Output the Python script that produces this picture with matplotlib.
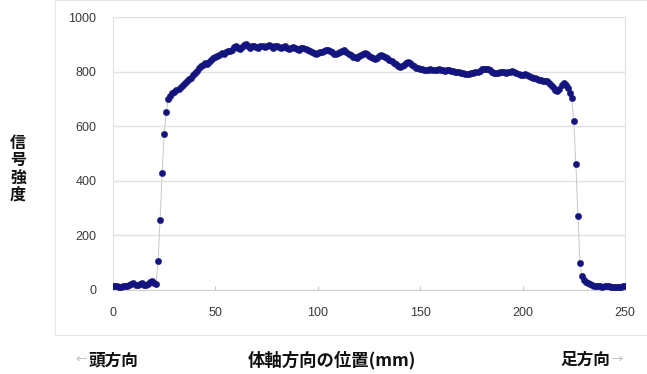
import matplotlib
matplotlib.use("Agg")
import matplotlib.pyplot as plt
from matplotlib.patches import Rectangle

plt.rcParams['font.family'] = ['Liberation Sans', 'Noto Sans CJK JP', 'DejaVu Sans']

# Position along body axis (mm) and signal intensity
positions = list(range(0, 251))
intensity = [
    15, 14, 13, 12, 12, 13, 14, 15, 18, 22, 25, 20, 18, 22, 26, 20, 18, 22, 28, 32, 26, 22,
    105, 258, 428, 570, 652, 698, 712, 720, 727, 732, 738, 745, 752, 758, 765, 772, 778, 786,
    795, 803, 812, 820, 826, 830, 828, 835, 842, 850, 855, 858, 862, 868, 866, 870, 874, 876,
    880, 890, 895, 888, 884, 890, 896, 900, 895, 888, 892, 895, 890, 886, 892, 895, 890, 892,
    896, 892, 888, 893, 895, 890, 886, 890, 892, 888, 884, 887, 890, 888, 884, 880, 885, 888,
    884, 880, 876, 870, 868, 866, 868, 870, 872, 875, 878, 880, 876, 870, 865, 864, 868, 872,
    876, 878, 872, 866, 860, 855, 852, 850, 856, 862, 866, 868, 864, 858, 852, 848, 845, 850,
    856, 860, 858, 855, 850, 843, 838, 832, 827, 822, 818, 820, 826, 832, 834, 830, 825, 820,
    815, 812, 810, 808, 806, 806, 807, 808, 806, 805, 806, 808, 807, 805, 804, 806, 805, 803,
    802, 800, 798, 797, 796, 794, 792, 791, 792, 794, 796, 797, 800, 804, 808, 810, 811, 810,
    806, 800, 796, 794, 795, 797, 798, 797, 796, 798, 800, 802, 800, 795, 790, 786, 788, 790,
    788, 784, 780, 778, 776, 772, 770, 768, 766, 765, 764, 760, 752, 742, 733, 728, 738, 750,
    757, 752, 740, 722, 702, 618, 462, 272, 100, 50, 38, 30, 26, 22, 18, 16, 14, 15, 13, 12,
    14, 15, 13, 12, 10, 11, 12, 10, 11, 13, 15,
]

x_ticks = [0, 50, 100, 150, 200, 250]
y_ticks = [0, 200, 400, 600, 800, 1000]
y_label = "信号強度"
x_label = "体軸方向の位置(mm)"
left_note = "頭方向"
right_note = "足方向"

W, H = 647, 374
fig = plt.figure(figsize=(W / 100, H / 100), dpi=100)
fig.patch.set_facecolor('white')

# faint chart-area border
fig.patches.append(Rectangle((55 / W, 1 - 335 / H), 1.2, 335 / H, transform=fig.transFigure,
                             fill=False, edgecolor='#e6e6e6', linewidth=0.8))

ax = fig.add_axes([113 / W, 1 - 290 / H, (625 - 113) / W, (290 - 17) / H])
ax.plot(positions, intensity, color='#c8c8c8', linewidth=0.7, zorder=2)
ax.plot(positions, intensity, linestyle='none', marker='o', markersize=4.6,
        markerfacecolor='#14147e', markeredgecolor='#14147e', markeredgewidth=0.3, zorder=3)

ax.set_xlim(0, 250)
ax.set_ylim(0, 1000)
ax.set_xticks(x_ticks)
ax.set_yticks(y_ticks)
ax.grid(axis='y', color='#e2e2e2', linewidth=1.0)
ax.set_axisbelow(True)
for s in ['left', 'right', 'top']:
    ax.spines[s].set_color('#e2e2e2')
ax.spines['bottom'].set_color('#d0d0d0')
ax.tick_params(axis='y', length=0, pad=12, labelsize=9, labelcolor='#3a3a3a')
ax.tick_params(axis='x', direction='in', length=3, color='#c8c8c8', pad=12,
               labelsize=9, labelcolor='#3a3a3a')

cjk = ['Noto Sans CJK JP', 'DejaVu Sans']
fig.text(18 / W, 1 - 169 / H, "\n".join(y_label), ha='center', va='center',
         fontsize=11.5, fontweight='bold', family=cjk, linespacing=1.1, color='#111111')
fig.text(332 / W, 1 - 360 / H, x_label, ha='center', va='center',
         fontsize=12.5, fontweight='bold', family=cjk, color='#111111')
fig.text(89 / W, 1 - 360 / H, left_note, ha='left', va='center',
         fontsize=12, fontweight='bold', family=cjk, color='#111111')
fig.text(87 / W, 1 - 360 / H, "←", ha='right', va='center',
         fontsize=8, family=cjk, color='#b0b0b0')
fig.text(610 / W, 1 - 360 / H, right_note, ha='right', va='center',
         fontsize=12, fontweight='bold', family=cjk, color='#111111')
fig.text(612 / W, 1 - 360 / H, "→", ha='left', va='center',
         fontsize=8, family=cjk, color='#b0b0b0')

fig.savefig('out.png', dpi=100, facecolor='white')
